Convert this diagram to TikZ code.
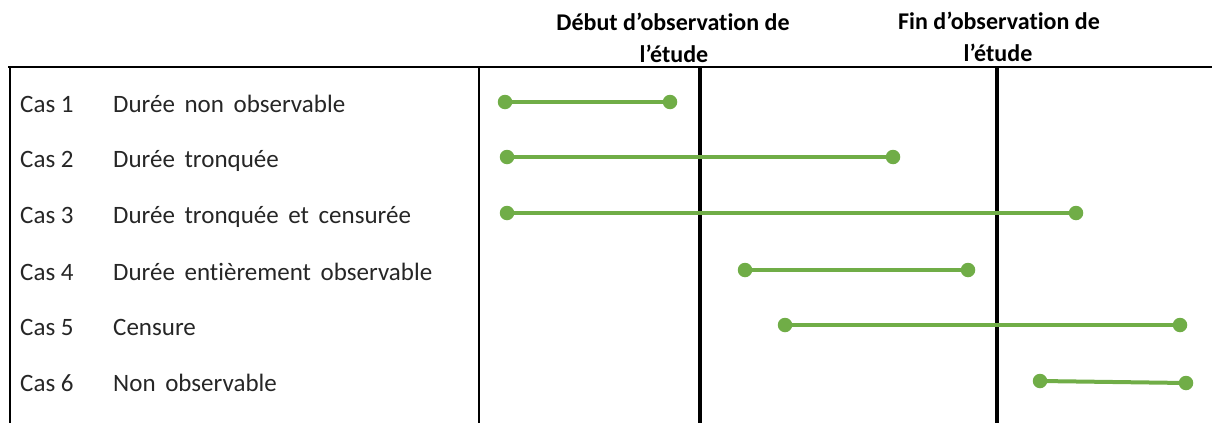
\documentclass[tikz,border=0pt]{standalone}
\usepackage{fontspec}
\setmainfont[Ligatures=NoCommon]{Carlito}
\newfontfamily\rowfont[Ligatures=NoCommon,WordSpace=1.7]{Carlito}
\definecolor{segGreen}{RGB}{112,173,71}
\begin{document}
\begin{tikzpicture}[x=1pt,y=-1pt,
  casl/.style={anchor=base west,inner sep=0pt,font=\fontsize{25}{30}\selectfont,text=black!85},
  lbl/.style={casl,font=\rowfont\fontsize{25}{30}\selectfont},
  hdr/.style={anchor=base,inner sep=0pt,font=\fontsize{24}{29}\selectfont\bfseries},
  frame/.style={line width=2.5pt,black},
  mark line/.style={line width=4.5pt,black},
  dotpt/.style={circle,fill=segGreen,minimum size=14.5pt,inner sep=0pt},
  seg/.style={line width=4pt,segGreen}]
\useasboundingbox (0,0) rectangle (1212,423);

% table frame
\coordinate (tl) at (8,67);
\coordinate (tr) at (1212,67);
\coordinate (lb) at (10,423);
\coordinate (lt) at (10,67);
\coordinate (mt) at (479,67);
\coordinate (mb) at (479,423);
\draw[frame] (tl) -- (tr);
\draw[frame] (lt) -- (lb);
\draw[frame] (mt) -- (mb);

% observation window markers
\coordinate (deb top) at (700,66);
\coordinate (deb bot) at (700,423);
\coordinate (fin top) at (997,66);
\coordinate (fin bot) at (997,423);
\draw[mark line] (deb top) -- (deb bot);
\draw[mark line] (fin top) -- (fin bot);

% headers
\node[hdr] (deb1) at (673,30) {Début d’observation de};
\node[hdr] (deb2) at (674,62) {l’étude};
\node[hdr] (fin1) at (999,29) {Fin d’observation de};
\node[hdr] (fin2) at (998,61) {l’étude};

% row labels
\node[casl] (c1) at (20,112) {Cas 1};
\node[casl] (c2) at (20,167) {Cas 2};
\node[casl] (c3) at (20,223) {Cas 3};
\node[casl] (c4) at (20,280) {Cas 4};
\node[casl] (c5) at (20,335) {Cas 5};
\node[casl] (c6) at (20,391) {Cas 6};
\node[lbl] (t1) at (113,112) {Durée non observable};
\node[lbl] (t2) at (113,167) {Durée tronquée};
\node[lbl] (t3) at (113,223) {Durée tronquée et censurée};
\node[lbl] (t4) at (113,280) {Durée entièrement observable};
\node[lbl] (t5) at (113,335) {Censure};
\node[lbl] (t6) at (113,391) {Non observable};

% durations
\coordinate (s1) at (505,102);  \coordinate (e1) at (670,102);
\coordinate (s2) at (507,157);  \coordinate (e2) at (893,157);
\coordinate (s3) at (507,213);  \coordinate (e3) at (1076,213);
\coordinate (s4) at (745,270);  \coordinate (e4) at (968,270);
\coordinate (s5) at (785,325);  \coordinate (e5) at (1180,325);
\coordinate (s6) at (1040,381); \coordinate (e6) at (1186,383);
\foreach \i in {1,...,6}{
  \draw[seg] (s\i) -- (e\i);
  \node[dotpt] (ds\i) at (s\i) {};
  \node[dotpt] (de\i) at (e\i) {};
}
\end{tikzpicture}
\end{document}
